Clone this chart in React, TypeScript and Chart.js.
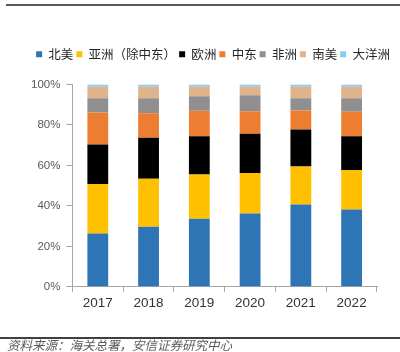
import React, { useEffect, useRef } from "react";
import { Chart, registerables } from "chart.js";

Chart.register(...registerables);

const years = ["2017", "2018", "2019", "2020", "2021", "2022"];
const northAmerica = [26.3, 29.7, 33.6, 36.2, 40.7, 38.2];
const asiaExMiddleEast = [24.5, 23.7, 21.9, 20.0, 18.8, 19.5];
const europe = [19.6, 20.3, 18.9, 19.5, 18.3, 16.7];
const middleEast = [15.7, 12.1, 12.6, 11.1, 9.3, 12.1];
const africa = [7.1, 7.4, 7.2, 7.9, 6.1, 6.7];
const southAmerica = [5.7, 5.7, 4.7, 4.2, 5.7, 5.7];
const oceania = [1.1, 1.1, 1.1, 1.1, 1.1, 1.1];

const seriesNames = ["北美", "亚洲（除中东）", "欧洲", "中东", "非洲", "南美", "大洋洲"];
const seriesValues = [northAmerica, asiaExMiddleEast, europe, middleEast, africa, southAmerica, oceania];
const seriesColors = ["#2E75B6", "#FFC000", "#000000", "#ED7D31", "#8F8F8F", "#DFB48C", "#8BCBF2"];

const yTicks = [0, 20, 40, 60, 80, 100];
const sourceText = "资料来源：海关总署，安信证券研究中心";

const legendGap = {
  id: "legendGap",
  beforeInit(chart: any) {
    const leg = chart.legend;
    if (!leg) return;
    const orig = leg.fit;
    leg.fit = function () {
      this.maxWidth = 420;
      orig.call(this);
      this.height += 14;
    };
  },
  afterLayout(chart: any) {
    const leg = chart.legend;
    if (!leg) return;
    leg.left = 26;
    leg.right = 400;
  },
};

export default function App() {
  const ref = useRef<HTMLCanvasElement | null>(null);
  useEffect(() => {
    if (!ref.current) return;
    const chart = new Chart(ref.current, {
      type: "bar",
      data: {
        labels: years,
        datasets: seriesNames.map((name, i) => ({
          label: name,
          data: seriesValues[i],
          backgroundColor: seriesColors[i],
          borderWidth: 0,
          barPercentage: 0.41,
          categoryPercentage: 1,
        })),
      },
      options: {
        responsive: false,
        animation: false,
        layout: { padding: { top: 45, left: 25, right: 23, bottom: 38 } },
        plugins: {
          tooltip: { enabled: false },
          legend: {
            position: "top",
            labels: {
              boxWidth: 6,
              boxHeight: 6,
              padding: 3,
              color: "#262626",
              font: { family: "'Noto Sans CJK SC'", size: 12.5 },
            },
          },
        },
        scales: {
          x: {
            stacked: true,
            grid: { display: true, drawOnChartArea: false, drawTicks: true, tickLength: 5, color: "#A6A6A6", offset: true },
            border: { display: true, color: "#A6A6A6" },
            ticks: { color: "#333333", padding: 3, font: { family: "'Liberation Sans', Arial", size: 13.5 } },
          },
          y: {
            stacked: true,
            min: 0,
            max: 100,
            afterBuildTicks: (scale: any) => {
              scale.ticks = yTicks.map((v) => ({ value: v }));
            },
            grid: { display: true, drawOnChartArea: false, drawTicks: true, tickLength: 6, color: "#A6A6A6" },
            border: { display: true, color: "#A6A6A6" },
            ticks: {
              color: "#595959",
              padding: 6,
              font: { family: "'Liberation Sans', Arial", size: 11.5 },
              callback: (v: any) => v + "%",
            },
          },
        },
      },
      plugins: [legendGap],
    });
    return () => chart.destroy();
  }, []);

  return (
    <div style={{ position: "fixed", left: 0, top: 0, width: 400, height: 352, background: "#fff", overflow: "hidden" }}>
      <div style={{ position: "absolute", left: 6, top: 4, width: 394, height: 2, background: "#595959" }} />
      <canvas ref={ref} width={400} height={352} style={{ position: "absolute", left: 0, top: 0 }} />
      <div style={{ position: "absolute", left: 0, top: 337, width: 400, height: 2, background: "#404040" }} />
      <div
        style={{
          position: "absolute",
          left: 7,
          top: 338,
          fontFamily: "'Noto Sans CJK SC'",
          fontStyle: "italic",
          fontSize: 12.5,
          lineHeight: "14px",
          color: "#595959",
          whiteSpace: "nowrap",
        }}
      >
        {sourceText}
      </div>
    </div>
  );
}
